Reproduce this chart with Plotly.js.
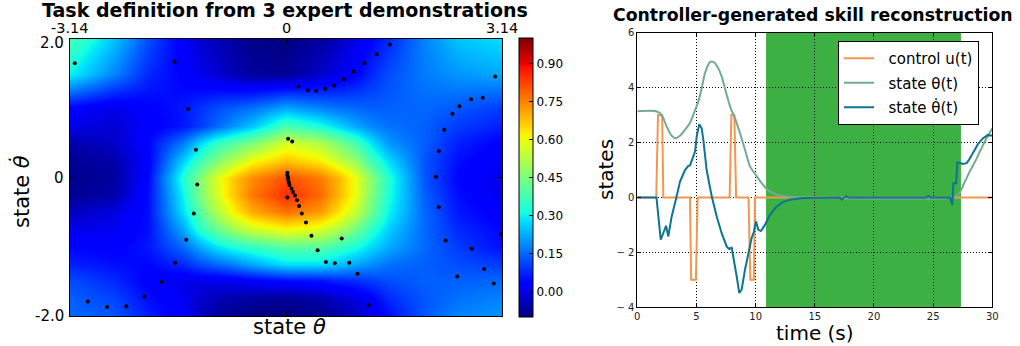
<!DOCTYPE html>
<html>
<head>
<meta charset="utf-8">
<script src="https://cdn.plot.ly/plotly-3.0.1.min.js"></script>
<style>html,body{margin:0;padding:0;background:#fff;}#chart{width:1020px;height:346px;}</style>
</head>
<body>
<div id="chart"></div>
<script>
// ---------- Left panel: task definition field ----------
const fieldX = [-3.14, -2.5, -2, -1.5, -1.25, -1, -0.75, -0.5, 0, 0.5, 0.75, 1, 1.25, 1.5, 2, 2.5, 3.14];
const fieldY = [-2, -1.75, -1.5, -1.25, -1, -0.75, -0.5, -0.25, 0, 0.25, 0.5, 0.75, 1, 1.5, 2];
const fieldZ = [
  [0.15, 0.13, 0.07, 0.02, -0.03, -0.07, -0.09, -0.10, -0.10, -0.09, -0.07, -0.04, 0.00, 0.05, 0.13, 0.18, 0.20],
  [0.14, 0.11, 0.05, 0.01, -0.03, -0.05, -0.06, -0.07, -0.08, -0.06, -0.03, -0.01, 0.03, 0.08, 0.13, 0.16, 0.18],
  [0.12, 0.08, 0.03, 0.00, 0.00, 0.00, 0.01, 0.02, 0.04, 0.05, 0.07, 0.08, 0.10, 0.12, 0.14, 0.14, 0.15],
  [0.07, 0.05, 0.04, 0.08, 0.12, 0.15, 0.18, 0.22, 0.28, 0.28, 0.25, 0.22, 0.19, 0.16, 0.14, 0.12, 0.10],
  [0.04, 0.03, 0.06, 0.15, 0.22, 0.28, 0.32, 0.35, 0.40, 0.40, 0.36, 0.32, 0.27, 0.22, 0.15, 0.10, 0.05],
  [0.00, 0.01, 0.05, 0.22, 0.34, 0.42, 0.50, 0.56, 0.61, 0.58, 0.52, 0.44, 0.34, 0.26, 0.15, 0.08, 0.04],
  [-0.04, -0.01, 0.05, 0.28, 0.40, 0.52, 0.62, 0.70, 0.77, 0.72, 0.64, 0.55, 0.42, 0.30, 0.15, 0.06, 0.02],
  [-0.08, -0.06, 0.05, 0.30, 0.45, 0.57, 0.67, 0.76, 0.85, 0.78, 0.69, 0.60, 0.45, 0.32, 0.14, 0.05, 0.00],
  [-0.09, -0.07, 0.04, 0.33, 0.46, 0.58, 0.67, 0.74, 0.81, 0.76, 0.69, 0.60, 0.46, 0.33, 0.13, 0.04, 0.00],
  [-0.08, -0.06, 0.03, 0.26, 0.36, 0.45, 0.52, 0.60, 0.67, 0.62, 0.55, 0.48, 0.36, 0.27, 0.13, 0.05, 0.01],
  [-0.06, -0.03, 0.04, 0.17, 0.27, 0.35, 0.40, 0.45, 0.57, 0.52, 0.45, 0.38, 0.28, 0.20, 0.14, 0.07, 0.03],
  [0.00, -0.02, 0.02, 0.06, 0.10, 0.15, 0.20, 0.25, 0.38, 0.32, 0.27, 0.22, 0.18, 0.16, 0.14, 0.10, 0.07],
  [0.03, 0.00, 0.03, 0.06, 0.09, 0.12, 0.14, 0.16, 0.22, 0.18, 0.16, 0.15, 0.14, 0.14, 0.15, 0.13, 0.10],
  [0.30, 0.18, 0.08, 0.03, 0.00, -0.02, -0.05, -0.07, -0.08, -0.03, 0.00, 0.03, 0.08, 0.12, 0.17, 0.20, 0.22],
  [0.38, 0.25, 0.12, 0.02, -0.02, -0.05, -0.07, -0.09, -0.10, -0.07, -0.04, 0.00, 0.04, 0.08, 0.18, 0.25, 0.28]
];
const demoTheta = [
  -3.07, -1.62, -1.42, -1.31, -1.29, -1.34, -1.45, -1.61, -1.81, -2.06, -2.32, -2.60, -2.88,
  0.18, 0.32, 0.44, 0.57, 0.70, 0.84, 0.98, 1.14, 1.32, 1.51,
  3.04, 2.86, 2.69, 2.52, 2.42, 2.30, 2.22, 2.18, 2.22, 2.32, 2.70, 2.88, 3.02, 2.49, 3.13,
  0.03, 0.09, 0.02, 0.02, 0.03, 0.03, 0.04, 0.05, 0.08, 0.10, 0.13, 0.16, 0.19, 0.23, 0.29,
  0.37, 0.46, 0.58, 0.71, 0.92, 1.04, 1.20, 0.81, 0.02
];
const demoDTheta = [
  1.65, 1.67, 0.99, 0.40, -0.10, -0.52, -0.90, -1.23, -1.51, -1.72, -1.86, -1.87, -1.79,
  1.31, 1.26, 1.25, 1.28, 1.33, 1.42, 1.53, 1.65, 1.78, 1.92,
  1.46, 1.15, 1.13, 1.03, 0.92, 0.69, 0.38, 0.01, -0.43, -0.91, -1.03, -1.32, -1.53, -1.43, -0.82,
  0.56, 0.52, 0.07, 0.03, 0.00, -0.03, -0.07, -0.11, -0.16, -0.21, -0.26, -0.33, -0.41, -0.52, -0.65,
  -0.84, -1.05, -1.22, -1.24, -1.23, -1.39, -1.84, -0.88, -0.29
];
const leftXTicks = [-3.14, 0, 3.14];
const leftXTickText = ['-3.14', '0', '3.14'];
const leftYTicks = [-2, 0, 2];
const leftYTickText = ['-2.0', '0', '2.0'];
const cbTicks = [0, 0.15, 0.30, 0.45, 0.60, 0.75, 0.90];

// ---------- Right panel: reconstruction ----------
const tControl = [0, 1.6, 1.75, 2.1, 2.2, 4.45, 4.55, 4.95, 5.1, 7.8, 7.95, 8.2, 8.35, 9.4, 9.55, 9.85, 9.95, 30];
const control  = [0, 0, 3, 3, 0, 0, -3, -3, 0, 0, 3, 3, 0, 0, -3, -3, 0, 0];
const tTheta = [0, 1.6, 2.06, 2.48, 2.9, 3.19, 3.61, 4.03, 4.45, 4.9, 5.16, 5.44, 5.72, 6.14, 6.43, 6.76, 7.13, 7.55, 7.89, 8.25, 8.68, 9.1, 9.52, 10, 10.51, 11.07, 11.78, 12.5, 13.2, 14, 26.7, 27.2, 27.6, 28.1, 28.6, 29, 29.5, 30];
const theta  = [3.14, 3.14, 3.01, 2.58, 2.25, 2.16, 2.25, 2.46, 2.72, 3.2, 3.5, 3.98, 4.53, 4.93, 4.94, 4.77, 4.41, 3.74, 3.25, 2.89, 2.34, 1.74, 1.13, 0.83, 0.52, 0.25, 0.11, 0.04, 0.01, 0, 0, 0.15, 0.5, 0.95, 1.35, 1.72, 2.15, 2.52];
const tDTheta = [0, 1.62, 1.98, 2.2, 2.43, 2.62, 2.9, 3.3, 3.61, 4.03, 4.31, 4.45, 4.74, 4.88, 5.02, 5.16, 5.24, 5.44, 5.58, 5.86, 6.29, 6.71, 7.13, 7.55, 7.78, 7.97, 8.12, 8.4, 8.62, 8.82, 9.1, 9.38, 9.66, 9.86, 10.03, 10.23, 10.45, 10.79, 11.21, 11.78, 12.3, 12.9, 14, 17.1, 17.27, 17.45, 17.64, 17.9, 24.4, 24.6, 24.8, 26.43, 26.62, 26.71, 26.94, 27.05, 27.2, 27.5, 27.83, 28.0, 28.4, 28.8, 29.2, 29.6, 30];
const dTheta  = [0, 0, -1.54, -1.3, -1.03, -1.42, -0.7, 0.0, 0.58, 1.0, 1.15, 1.17, 1.55, 1.67, 2.22, 2.58, 2.67, 2.52, 2.1, 1.0, 0.04, -0.69, -1.3, -1.78, -1.88, -1.81, -2.15, -2.88, -3.48, -3.36, -2.63, -2.03, -1.48, -1.24, -0.87, -1.18, -1.22, -1.0, -0.63, -0.33, -0.17, -0.08, -0.02, 0, -0.08, 0.0, 0.04, 0, 0, 0.05, 0, 0, -0.27, 0.52, 0.52, 1.27, 1.27, 1.22, 1.25, 1.35, 1.65, 1.95, 2.15, 2.27, 2.26];
const successSpan = [10.88, 27.35];
const rightXTicks = [0, 5, 10, 15, 20, 25, 30];
const rightYTicks = [-4, -2, 0, 2, 4, 6];
const rightYTickText = ['\u2212 4', '\u2212 2', '0', '2', '4', '6'];

const W = 1020, H = 346;
const px = v => v / W;
const py = v => 1 - v / H;
const FONT = 'DejaVu Sans';
const NB = '\u00a0\u00a0';

const jet = [
  [0, 'rgb(0,0,128)'], [0.11, 'rgb(0,0,255)'], [0.125, 'rgb(0,0,255)'],
  [0.34, 'rgb(0,219,255)'], [0.35, 'rgb(0,230,247)'], [0.375, 'rgb(21,255,226)'],
  [0.64, 'rgb(239,255,8)'], [0.65, 'rgb(247,245,0)'], [0.66, 'rgb(255,236,0)'],
  [0.89, 'rgb(255,19,0)'], [0.91, 'rgb(232,0,0)'], [1, 'rgb(128,0,0)']
];

const traces = [
  {
    type: 'heatmap', x: fieldX, y: fieldY, z: fieldZ, zsmooth: 'best',
    zmin: -0.1, zmax: 1.0, colorscale: jet, xaxis: 'x', yaxis: 'y',
    showscale: true, hoverinfo: 'skip',
    colorbar: {
      x: px(519), xanchor: 'left', y: py(177.5), yanchor: 'middle',
      len: 279 / H, lenmode: 'fraction', thickness: 14, thicknessmode: 'pixels',
      xpad: 0, ypad: 0, outlinewidth: 1, outlinecolor: '#000',
      ticks: 'inside', ticklen: 4, tickcolor: '#000',
      tickvals: cbTicks, ticktext: cbTicks.map(v => v.toFixed(2)),
      tickfont: {family: FONT, size: 12, color: '#000'}
    }
  },
  {
    type: 'scatter', mode: 'markers', x: demoTheta, y: demoDTheta,
    xaxis: 'x', yaxis: 'y', marker: {color: '#000', size: 4}, showlegend: false, hoverinfo: 'skip'
  },
  {
    type: 'scatter', mode: 'lines', x: tControl, y: control, name: NB + 'control u(t)',
    xaxis: 'x2', yaxis: 'y2', line: {color: '#f5954f', width: 2}, legendgroup: 'a'
  },
  {
    type: 'scatter', mode: 'lines', x: tTheta, y: theta, name: NB + 'state \u03b8(t)',
    xaxis: 'x2', yaxis: 'y2', line: {color: '#73ab91', width: 2, shape: 'spline', smoothing: 0.6}, legendgroup: 'b'
  },
  {
    type: 'scatter', mode: 'lines', x: tDTheta, y: dTheta, name: NB + 'state \u03b8\u0307(t)',
    xaxis: 'x2', yaxis: 'y2', line: {color: '#0b7592', width: 2}, legendgroup: 'c'
  }
];

const axCommon = {
  showline: true, linecolor: '#000', linewidth: 1, mirror: 'ticks',
  ticks: 'inside', ticklen: 4, tickcolor: '#000', zeroline: false, fixedrange: true
};

const annotations = [
  {text: 'Task definition from 3 expert demonstrations', x: px(285), y: py(10), xref: 'paper', yref: 'paper',
   showarrow: false, xanchor: 'center', yanchor: 'middle', font: {family: FONT, size: 19, weight: 'bold', color: '#000'}},
  {text: 'Controller-generated skill reconstruction', x: px(813), y: py(15), xref: 'paper', yref: 'paper',
   showarrow: false, xanchor: 'center', yanchor: 'middle', font: {family: FONT, size: 17.3, weight: 'bold', color: '#000'}},
  {text: 'state <i>\u03b8</i>', x: px(289), y: py(327), xref: 'paper', yref: 'paper',
   showarrow: false, xanchor: 'center', yanchor: 'middle', font: {family: FONT, size: 21, color: '#000'}},
  {text: 'state <i>\u03b8\u0307</i>', x: px(21), y: py(192), xref: 'paper', yref: 'paper', textangle: -90,
   showarrow: false, xanchor: 'center', yanchor: 'middle', font: {family: FONT, size: 21, color: '#000'}},
  {text: 'states', x: px(606), y: py(170), xref: 'paper', yref: 'paper', textangle: -90,
   showarrow: false, xanchor: 'center', yanchor: 'middle', font: {family: FONT, size: 20, color: '#000'}},
  {text: 'time (s)', x: px(815), y: py(333), xref: 'paper', yref: 'paper',
   showarrow: false, xanchor: 'center', yanchor: 'middle', font: {family: FONT, size: 20, color: '#000'}}
];
leftXTicks.forEach((v, i) => {
  annotations.push({text: leftXTickText[i], x: v, xref: 'x', y: py(28), yref: 'paper',
    showarrow: false, xanchor: 'center', yanchor: 'middle', font: {family: FONT, size: 14.5, color: '#000'}});
});
leftYTicks.forEach((v, i) => {
  annotations.push({text: leftYTickText[i], x: px(66), xref: 'paper', y: v, yref: 'y', yshift: i === 2 ? -4 : 0,
    showarrow: false, xanchor: 'right', yanchor: 'middle', font: {family: FONT, size: 15, color: '#000'}});
});

const layout = {
  width: W, height: H,
  margin: {l: 0, r: 0, t: 0, b: 0},
  paper_bgcolor: '#fff', plot_bgcolor: '#fff',
  font: {family: FONT, color: '#000'},
  showlegend: true,
  legend: {
    x: px(838), xanchor: 'left', y: py(41), yanchor: 'top',
    bgcolor: '#fff', bordercolor: '#000', borderwidth: 1,
    font: {family: FONT, size: 15, color: '#000'}, tracegroupgap: 2
  },
  xaxis: Object.assign({}, axCommon, {
    domain: [px(70), px(502)], range: [-3.14, 3.14], side: 'top', anchor: 'y',
    tickvals: leftXTicks, showticklabels: false, showgrid: false
  }),
  yaxis: Object.assign({}, axCommon, {
    domain: [py(316), py(39)], range: [-2, 2], anchor: 'x',
    tickvals: leftYTicks, showticklabels: false, showgrid: false
  }),
  xaxis2: Object.assign({}, axCommon, {
    domain: [px(637.3), px(992.3)], range: [0, 30], anchor: 'y2',
    tickvals: rightXTicks,
    tickfont: {family: FONT, size: 10, color: '#222'},
    showgrid: true, gridcolor: '#000', gridwidth: 1, griddash: '1px,2px'
  }),
  yaxis2: Object.assign({}, axCommon, {
    domain: [py(307.3), py(32.7)], range: [-4, 6], anchor: 'x2',
    tickvals: rightYTicks, ticktext: rightYTickText,
    tickfont: {family: FONT, size: 10, color: '#222'},
    showgrid: true, gridcolor: '#000', gridwidth: 1, griddash: '1px,2px'
  }),
  shapes: [{
    type: 'rect', xref: 'x2', yref: 'y2 domain', x0: successSpan[0], x1: successSpan[1], y0: 0, y1: 1,
    fillcolor: 'rgb(61,176,68)', line: {width: 0}, layer: 'below'
  }],
  annotations: annotations
};

Plotly.newPlot('chart', traces, layout, {displayModeBar: false, staticPlot: true});
</script>
</body>
</html>
